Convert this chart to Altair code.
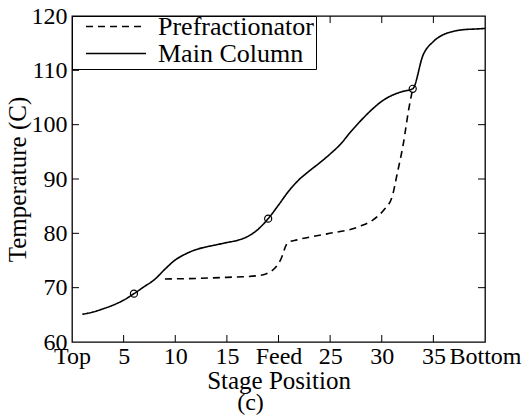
import altair as alt
import pandas as pd

# ---- data ----
stages = list(range(1, 41))
main_temp = [65.1, 65.5, 66.1, 66.8, 67.7, 68.9, 70.2, 71.5, 73.4, 75.1,
             76.2, 77.0, 77.5, 77.9, 78.3, 78.7, 79.4, 80.7, 82.7, 85.2,
             87.8, 89.9, 91.5, 93.0, 94.6, 96.4, 98.7, 100.8, 102.7, 104.3,
             105.4, 106.1, 106.6, 112.8, 115.3, 116.6, 117.2, 117.5, 117.6, 117.7]
prefrac_stage = [9, 12, 15, 18, 19, 20.2, 20.9, 21.8, 24.7, 27.9,
                 29.1, 30.2, 31.0, 31.5, 32.1, 32.6, 33.0]
prefrac_temp = [71.6, 71.7, 71.9, 72.2, 72.7, 75.1, 78.3, 78.8, 79.9, 81.3,
                82.4, 84.3, 86.7, 91.0, 96.6, 102.7, 106.6]
marker_stage = [6, 19, 33]
marker_temp = [68.9, 82.7, 106.6]

series_names = ["Prefractionator", "Main Column"]
x_tick_values = [0, 5, 10, 15, 20, 25, 30, 35, 40]
x_tick_labels = ["Top", "5", "10", "15", "Feed", "25", "30", "35", "Bottom"]
y_tick_values = [60, 70, 80, 90, 100, 110, 120]
inner_x_ticks = [5, 10, 15, 20, 25, 30, 35]
inner_y_ticks = [70, 80, 90, 100, 110]

W, H = 413, 326
FONT = "Liberation Serif"

main_df = pd.DataFrame({"stage": stages, "temp": main_temp, "series": series_names[1]})
pre_df = pd.DataFrame({"stage": prefrac_stage, "temp": prefrac_temp, "series": series_names[0]})
mk_df = pd.DataFrame({"stage": marker_stage, "temp": marker_temp})
xt_df = pd.DataFrame({"stage": inner_x_ticks})
yt_df = pd.DataFrame({"temp": inner_y_ticks})

label_expr = " : ".join(
    f"datum.value == {v} ? '{l}'" for v, l in zip(x_tick_values, x_tick_labels)
) + " : datum.label"

xscale = alt.Scale(domain=[0, 40], nice=False, zero=False)
yscale = alt.Scale(domain=[60, 120], nice=False, zero=False)

x_axis = alt.Axis(values=x_tick_values, labelExpr=label_expr,
                  title="Stage Position", labelOverlap=False,
                  labelFlush=False, labelPadding=2, titlePadding=0)
y_axis = alt.Axis(values=y_tick_values, title="Temperature (C)",
                  labelOverlap=False, labelFlush=False, labelPadding=5,
                  titlePadding=1)
x_enc = alt.X("stage:Q", scale=xscale, axis=x_axis)
y_enc = alt.Y("temp:Q", scale=yscale, axis=y_axis)

dash = alt.StrokeDash(
    "series:N",
    scale=alt.Scale(domain=series_names, range=[[7, 5], [1, 0]]),
    legend=alt.Legend(title=None, orient="top-left", offset=0, padding=2,
                      strokeColor="black", fillColor="white",
                      symbolType="stroke", symbolSize=3600,
                      symbolStrokeWidth=1.5, symbolStrokeColor="black",
                      symbolOffset=11, labelOffset=11, clipHeight=17,
                      rowPadding=0, labelFont=FONT, labelFontSize=26,
                      labelColor="black", labelLimit=0, cornerRadius=0),
)

main_line = alt.Chart(main_df).mark_line(
    color="black", strokeWidth=1.6, interpolate="monotone"
).encode(x=x_enc, y=y_enc, strokeDash=dash)

pre_line = alt.Chart(pre_df).mark_line(
    color="black", strokeWidth=1.6, interpolate="monotone"
).encode(x=x_enc, y=y_enc, strokeDash=dash)

markers = alt.Chart(mk_df).mark_point(
    shape="circle", filled=False, size=50, color="black", strokeWidth=1.2, opacity=1
).encode(x=x_enc, y=y_enc)

tick_style = dict(color="black", strokeWidth=1)
bottom_ticks = alt.Chart(xt_df).mark_rule(**tick_style).encode(
    x=x_enc, y=alt.value(H), y2=alt.value(H - 7))
top_ticks = alt.Chart(xt_df).mark_rule(**tick_style).encode(
    x=x_enc, y=alt.value(0), y2=alt.value(7))
left_ticks = alt.Chart(yt_df).mark_rule(**tick_style).encode(
    y=y_enc, x=alt.value(0), x2=alt.value(7))
right_ticks = alt.Chart(yt_df).mark_rule(**tick_style).encode(
    y=y_enc, x=alt.value(W), x2=alt.value(W - 7))

chart = alt.layer(
    main_line, pre_line, markers, bottom_ticks, top_ticks, left_ticks, right_ticks
).properties(
    width=W, height=H,
    autosize=alt.AutoSizeParams(type="none"),
    padding={"left": 72, "top": 16, "right": 43, "bottom": 75},
    title=alt.TitleParams(text="(c)", orient="bottom", anchor="middle",
                          font=FONT, fontSize=24, fontWeight="normal",
                          color="black", offset=-2, dx=-28),
).configure_view(
    stroke="black", strokeWidth=1.3
).configure_axis(
    grid=False, domain=False, ticks=False,
    labelFont=FONT, labelFontSize=24, labelColor="black",
    titleFont=FONT, titleFontSize=25, titleFontWeight="normal", titleColor="black",
)

chart.save("out.html", embed_options={"renderer": "svg", "actions": False})
